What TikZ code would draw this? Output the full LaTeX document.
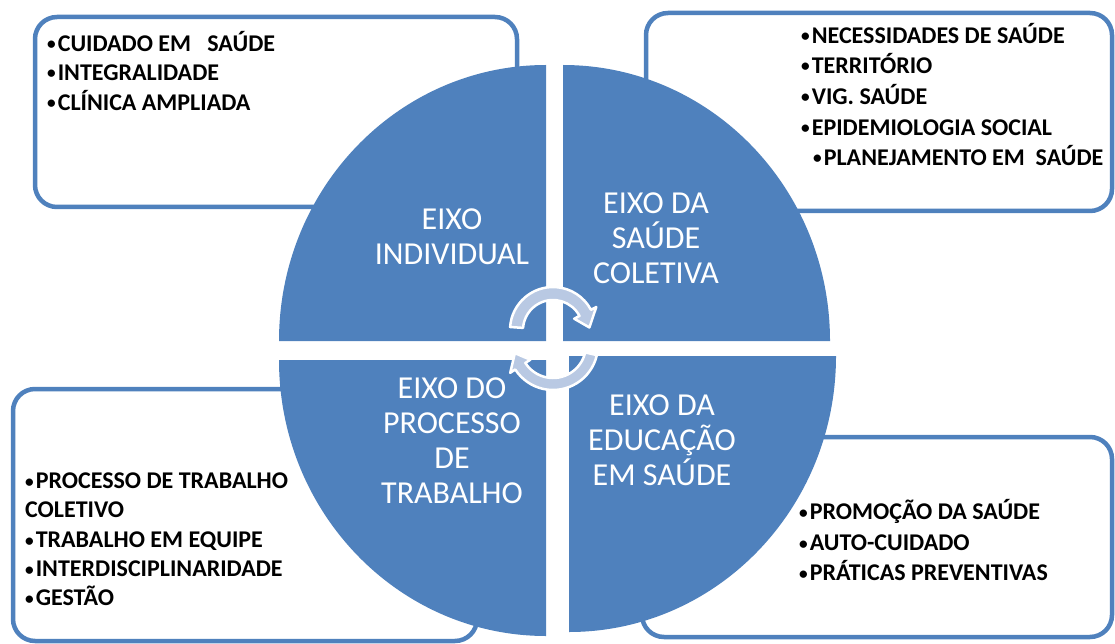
\documentclass[tikz,border=0pt]{standalone}
\usepackage{fontspec}
\usepackage{graphicx}
\setmainfont{Carlito}
\usetikzlibrary{calc,positioning}
\definecolor{eixo}{HTML}{4F81BD}
\definecolor{seta}{HTML}{B9C9E3}
\newcommand\bul{\raisebox{1.5pt}{\scalebox{0.72}{•}}\hspace{2pt}}
\begin{document}
\begin{tikzpicture}[x=1pt,y=-1pt]
\tikzstyle{box}=[draw=eixo, line width=4.5pt, rounded corners=22pt, fill=white]
\tikzstyle{itm}=[anchor=base west, inner sep=0pt, font=\fontsize{24}{28}\selectfont\bfseries]
\tikzstyle{qdr}=[fill=eixo]
\tikzstyle{ax}=[align=center, text=white, inner sep=0pt, font=\fontsize{32}{35}\selectfont]
\tikzstyle{arw}=[fill=seta, draw=white, line width=2.5pt, line join=round]
\useasboundingbox (0,0) rectangle (1115,644);
% corner boxes
\draw[box] (35,17) rectangle (517,207);
\draw[box] (646,13) rectangle (1112,211);
\draw[box] (13,389) rectangle (477,641);
\draw[box] (642,437) rectangle (1112,637);
\foreach \x/\y/\t [count=\n] in {47/51.5/{\bul CUIDADO EM\ \ \ SAÚDE}, 47/80.5/{\bul INTEGRALIDADE}, 47/110.5/{\bul CLÍNICA AMPLIADA},
  801/43.5/{\bul NECESSIDADES DE SAÚDE}, 801/73.5/{\bul TERRITÓRIO}, 801/104.5/{\bul VIG. SAÚDE}, 801/135.5/{\bul EPIDEMIOLOGIA SOCIAL}, 813/165.5/{\bul PLANEJAMENTO EM\ \ SAÚDE},
  25/488.5/{\bul PROCESSO DE TRABALHO}, 25/517.5/{COLETIVO}, 25/547.5/{\bul TRABALHO EM EQUIPE}, 25/576.5/{\bul INTERDISCIPLINARIDADE}, 25/605.5/{\bul GESTÃO},
  799/519.5/{\bul PROMOÇÃO DA SAÚDE}, 799/550.5/{\bul AUTO-CUIDADO}, 799/580.5/{\bul PRÁTICAS PREVENTIVAS}}
  {\node[itm] (i\n) at (\x,\y) {\t};}
% the four quadrants
\foreach \cx/\cy/\a in {546/341/180, 563/341/270, 569/356/0, 546/360/90}
  {\fill[qdr] (\cx,\cy) -- ++(\a:267 and 276) arc[start angle=\a, delta angle=90, x radius=267, y radius=276] -- cycle;}
\node[ax] (ind) at (452,237) {EIXO\\INDIVIDUAL};
\node[ax] (col) at (656,238) {EIXO DA\\SAÚDE\\COLETIVA};
\node[ax] (trab) at (452,441) {EIXO DO\\PROCESSO\\DE\\TRABALHO};
\node[ax] (edu) at (662,440) {EIXO DA\\EDUCAÇÃO\\EM SAÚDE};
% circular arrows
\begin{scope}[shift={(553,330)}]
\filldraw[arw] (184:43) arc[start angle=184, end angle=332, radius=43] -- (332:49) -- (356:36.5) -- (332:24) -- (332:30) arc[start angle=332, end angle=184, radius=30] -- cycle;
\end{scope}
\begin{scope}[shift={(553,345)}]
\filldraw[arw] (13:45) arc[start angle=13, end angle=147, radius=45] -- (147:51) -- (168:39) -- (147:27) -- (147:33) arc[start angle=147, end angle=13, radius=33] -- cycle;
\end{scope}
\end{tikzpicture}
\end{document}
